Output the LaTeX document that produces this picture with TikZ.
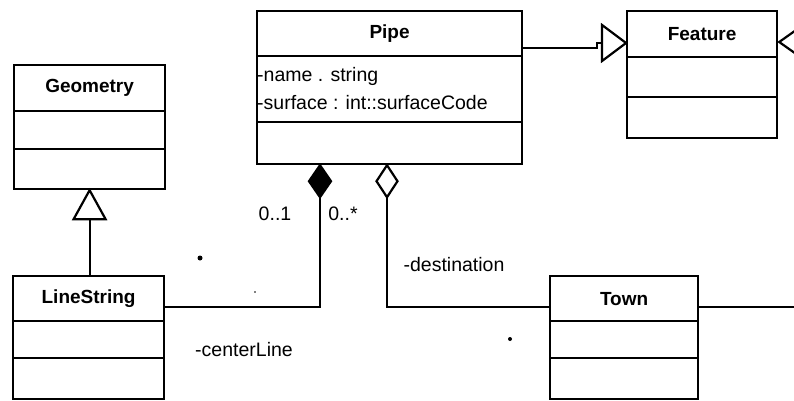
\documentclass[tikz,border=0pt]{standalone}
\usepackage{fontspec}
\setmainfont{Liberation Sans}
\usetikzlibrary{calc}
% horizontal compartment line #2 below the top edge of class box #1
\newcommand\umlsep[2]{\draw[umlline] ([yshift=-#2]#1.north west) -- ([yshift=-#2]#1.north east);}
\begin{document}
\begin{tikzpicture}[x=1pt,y=-1pt,
  umlline/.style={line width=2.2pt, draw=black},
  classbox/.style={draw, umlline, inner sep=0pt, anchor=north west},
  classname/.style={font=\fontsize{19}{22}\selectfont\bfseries, inner sep=0pt},
  attr/.style={font=\fontsize{19.5}{22}\selectfont, inner sep=0pt, anchor=west},
  lbl/.style={font=\fontsize{19.5}{22}\selectfont, inner sep=0pt},
  hollowtri/.style={umlline, fill=white, line join=miter},
]
\useasboundingbox (0,0) rectangle (794,400);

% class boxes
\node[classbox, minimum width=265pt, minimum height=153pt] (pipe) at (256,10) {};
\node[classbox, minimum width=151pt, minimum height=124pt] (geometry) at (13,64) {};
\node[classbox, minimum width=150pt, minimum height=127pt] (feature) at (626,10) {};
\node[classbox, minimum width=151pt, minimum height=123pt] (linestring) at (12,275) {};
\node[classbox, minimum width=148pt, minimum height=123pt] (town) at (549,275) {};

% compartments
\umlsep{pipe}{46pt}\umlsep{pipe}{112pt}
\umlsep{geometry}{47pt}\umlsep{geometry}{85pt}
\umlsep{feature}{47pt}\umlsep{feature}{87pt}
\umlsep{linestring}{46pt}\umlsep{linestring}{83pt}
\umlsep{town}{46pt}\umlsep{town}{83pt}

% class names
\node[classname] (pipe-name) at ($(pipe.north)+(0,24)$) {Pipe};
\node[classname] (geometry-name) at ($(geometry.north)+(0,24)$) {Geometry};
\node[classname] (feature-name) at ($(feature.north)+(0,24)$) {Feature};
\node[classname] (linestring-name) at ($(linestring.north)+(0,24)$) {LineString};
\node[classname] (town-name) at ($(town.north)+(0,24)$) {Town};

% attributes of Pipe
\node[attr] (pipe-a1) at ($(pipe.north west)+(1,66)$) {-name . string};
\node[attr] (pipe-a2) at ($(pipe.north west)+(1,93)$) {-surface : int::surfaceCode};

% LineString specialises Geometry
\coordinate (g-base) at ($(geometry.south)+(0,29)$);
\draw[umlline] (g-base) -- (g-base |- linestring.north);
\draw[hollowtri] (geometry.south) -- ++(16,29) -- ++(-32,0) -- cycle;

% Pipe specialises Feature
\coordinate (f-tip) at ($(feature.north west)+(0,33)$);
\coordinate (f-base) at ($(f-tip)+(-24,0)$);
\draw[umlline] ($(pipe.north east)+(0,38)$) -| ($(f-base)+(-5,0)$) -- (f-base);
\draw[hollowtri] (f-tip) -- ($(f-base)+(0,-18)$) -- ($(f-base)+(0,18)$) -- cycle;

% generalisation arriving at Feature from the right
\begin{scope}
  \clip (0,0) rectangle (794,400);
  \draw[hollowtri] ($(feature.north east)+(1,32)$) -- ++(24,-17) -- ++(0,34) -- cycle;
\end{scope}

% composition Pipe -- LineString
\coordinate (comp) at ($(pipe.south west)+(64,0)$);
\draw[umlline, fill=black] (comp) -- ++(11,16) -- ++(-11,16) -- ++(-11,-16) -- cycle;
\draw[umlline] ($(comp)+(0,32)$) |- ($(linestring.north east)+(0,32)$);

% aggregation Pipe -- Town
\coordinate (aggr) at ($(pipe.south west)+(131,0)$);
\draw[umlline, fill=white] (aggr) -- ++(10.5,16) -- ++(-10.5,16) -- ++(-10.5,-16) -- cycle;
\draw[umlline] ($(aggr)+(0,32)$) |- ($(town.north west)+(0,32)$);

% association leaving Town to the right
\coordinate (town-out) at ($(town.north east)+(97,32)$);
\draw[umlline] ($(town.north east)+(0,32)$) -- (town-out);

% multiplicities and role names
\node[lbl] (mult-one) at (275,214) {0..1};
\node[lbl] (mult-many) at (343,214) {0..*};
\node[lbl] (role-dest) at (454,265) {-destination};
\node[lbl] (role-center) at (244,350) {-centerLine};

% stray marks
\fill (200,258) circle (2.5pt);
\fill (510,339) circle (2pt);
\fill (255,292) circle (0.8pt);
\end{tikzpicture}
\end{document}
